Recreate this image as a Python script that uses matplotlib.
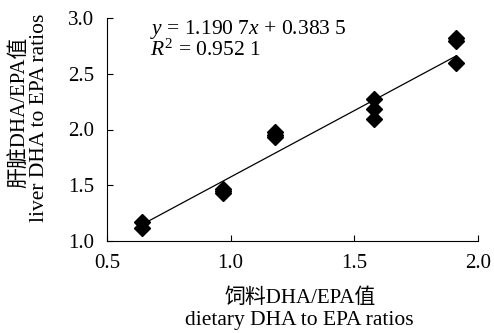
import numpy as np
import matplotlib
matplotlib.use('Agg')
import matplotlib.pyplot as plt

# 数据
diet_ratio = [0.64, 0.64, 0.97, 0.97, 0.97, 1.18, 1.18, 1.18,
              1.58, 1.58, 1.58, 1.91, 1.91, 1.91]
liver_ratio = [1.17, 1.12, 1.47, 1.45, 1.43, 1.98, 1.95, 1.93,
               2.27, 2.18, 2.09, 2.82, 2.79, 2.60]
slope = 1.1907
intercept = 0.3835

plt.rcParams['font.family'] = ['Liberation Serif', 'Noto Sans CJK SC']
plt.rcParams['mathtext.fontset'] = 'custom'
plt.rcParams['mathtext.rm'] = 'Liberation Serif'
plt.rcParams['mathtext.it'] = 'Liberation Serif:italic'

W, H = 494, 333
fig = plt.figure(figsize=(W / 100, H / 100), dpi=100)
ax = fig.add_axes([107 / W, 1 - 241 / H, 371 / W, 223 / H])

ax.plot(diet_ratio, liver_ratio, 'D', color='black', markersize=8.5, zorder=3)

# 回归线
xs = np.array([min(diet_ratio), max(diet_ratio)])
ax.plot(xs, slope * xs + intercept, color='black', linewidth=0.9, zorder=2)

ax.text(0.672, 3.0, '$y$ = 1.190 7$x$ + 0.383 5\n$R^2$ = 0.952 1',
        fontsize=15.5, va='top', ha='left', linespacing=0.9)

ax.set_xlim(0.5, 2.0)
ax.set_ylim(1.0, 3.0)
ax.set_xticks([0.5, 1.0, 1.5, 2.0])
ax.set_yticks([1.0, 1.5, 2.0, 2.5, 3.0])
ax.set_xticklabels(['0.5', '1.0', '1.5', '2.0'])
ax.set_yticklabels(['1.0', '1.5', '2.0', '2.5', '3.0'])
ax.tick_params(direction='in', length=4, width=0.8, labelsize=15, pad=9)
ax.spines['top'].set_visible(False)
ax.spines['right'].set_visible(False)
for s in ['left', 'bottom']:
    ax.spines[s].set_linewidth(0.8)

# 坐标轴标题
fig.text(300 / W, 1 - 298 / H, '饲料DHA/EPA值', fontsize=15, ha='center', va='center')
fig.text(299 / W, 1 - 320 / H, 'dietary DHA to EPA ratios', fontsize=15.5,
         ha='center', va='center')
fig.text(20 / W, 1 - 112 / H, '肝脏DHA/EPA值', fontsize=15, rotation=90,
         ha='center', va='center')
fig.text(40 / W, 1 - 118 / H, 'liver DHA to EPA ratios', fontsize=15.5, rotation=90,
         ha='center', va='center')

fig.savefig('out.png', dpi=100)
